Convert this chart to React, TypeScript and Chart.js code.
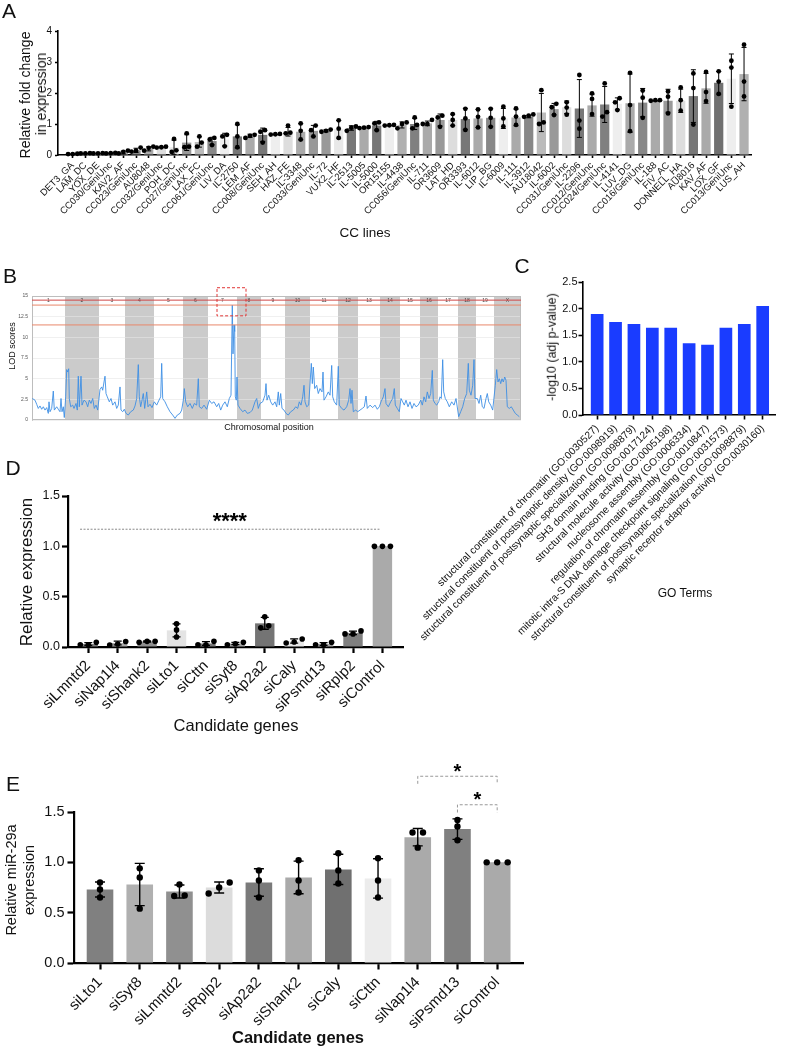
import React, { useEffect, useRef } from 'react';
import { Chart, registerables } from 'chart.js';

Chart.register(...registerables);
const FONT = '"Liberation Sans", Arial, Helvetica, sans-serif';
Chart.defaults.font.family = FONT;
Chart.defaults.color = '#111';

/* ---------------- Panel A data ---------------- */
const ccLines = ['DET3_GA','LAM_DC','YOX_DE','CC030/GeniUnc','KAV2_AF','CC023/GeniUnc','AU8048','CC032/GeniUnc','POH_DC','CC027/GeniUnc','LAX_FC','CC061/GeniUnc','LIV_DA','IL-2750','LEM_AF','CC008/GeniUnc','SEH_AH','HAZ_FE','IL-3348','CC033/GeniUnc','IL-72','VUX2_HF','IL-2513','IL-5005','IL-5000','OR15155','IL-4438','CC056/GeniUnc','IL-711','OR3609','LAT_HD','OR3393','IL-6012','LIP_BG','IL-6009','IL-111','IL-3912','AU18042','IL-6002','CC031/GeniUnc','IL-2296','CC012/GeniUnc','CC024/GeniUnc','IL-4141','LUV_DG','CC016/GeniUnc','IL-188','FIV_AC','DONNELL_HA','AU8016','KAV_AF','LOX_GF','CC013/GeniUnc','LUS_AH'];
const ccMeans = [0.03,0.05,0.05,0.06,0.08,0.15,0.2,0.25,0.25,0.4,0.42,0.45,0.5,0.6,0.62,0.65,0.66,0.75,0.75,0.78,0.78,0.83,0.87,0.88,0.95,0.95,0.97,1.0,1.02,1.13,1.13,1.16,1.18,1.2,1.18,1.21,1.24,1.37,1.48,1.54,1.5,1.6,1.63,1.65,1.67,1.69,1.75,1.75,1.75,1.9,2.15,2.33,2.46,2.61];
const ccReplicates = [[0.03,0.03,0.04],[0.05,0.06,0.05],[0.05,0.06,0.05],[0.05,0.07,0.06],[0.05,0.1,0.14],[0.11,0.14,0.24],[0.14,0.23,0.27],[0.24,0.25,0.27],[0.1,0.15,0.52],[0.25,0.27,0.7],[0.27,0.4,0.6],[0.32,0.5,0.55],[0.28,0.6,0.65],[0.25,0.6,1.0],[0.55,0.62,0.65],[0.4,0.75,0.8],[0.66,0.67,0.68],[0.7,0.72,0.95],[0.5,0.78,1.02],[0.6,0.8,0.95],[0.75,0.78,0.82],[0.55,0.85,1.12],[0.78,0.88,0.92],[0.87,0.88,0.9],[0.8,1.02,1.05],[0.95,0.96,0.97],[0.86,1.0,1.05],[0.86,0.97,1.21],[1.0,1.0,1.13],[0.91,1.21,1.27],[0.95,1.13,1.32],[0.81,1.18,1.49],[0.89,1.23,1.47],[0.91,1.2,1.49],[0.92,1.18,1.56],[0.97,1.24,1.5],[1.23,1.27,1.31],[1.0,1.05,2.09],[1.29,1.54,1.65],[1.3,1.53,1.7],[0.85,1.11,2.58],[1.32,1.81,1.99],[1.24,1.38,2.31],[1.45,1.7,1.83],[0.77,1.61,2.65],[1.2,1.85,2.08],[1.75,1.77,1.77],[1.34,1.88,2.05],[1.43,1.77,2.18],[0.98,2.16,2.63],[1.74,2.03,2.68],[1.97,2.37,2.7],[1.56,2.82,3.04],[1.89,2.37,3.56]];
const ccBarColors = ['#808080','#aaaaaa','#dddddd','#888888','#aaaaaa','#888888','#aaaaaa','#dddddd','#e8e8e8','#999999','#bbbbbb','#888888','#eeeeee','#777777','#aaaaaa','#777777','#eeeeee','#dddddd','#aaaaaa','#999999','#999999','#e8e8e8','#777777','#aaaaaa','#777777','#eeeeee','#b0b0b0','#808080','#aaaaaa','#999999','#dddddd','#777777','#aaaaaa','#888888','#eeeeee','#aaaaaa','#888888','#bbbbbb','#999999','#dddddd','#777777','#aaaaaa','#808080','#eeeeee','#aaaaaa','#888888','#aaaaaa','#999999','#dddddd','#777777','#aaaaaa','#707070','#eeeeee','#b0b0b0'];

/* ---------------- Panel B data ---------------- */
const chromosomes = ['1','2','3','4','5','6','7','8','9','10','11','12','13','14','15','16','17','18','19','X'];
const chromStart = [0,33,67,93,122,151,176,205,229,253,278,306,326,348,368,388,406,426,444,462];
const chromEnd = [33,67,93,122,151,176,205,229,253,278,306,326,348,368,388,406,426,444,462,489];
const lodThresholds = [14.5, 13.9, 11.5];
const lodThresholdColors = ['#d04848', '#e8876a', '#e8876a'];
const peakBox = { from: 185, to: 214, low: 12.6, high: 16 };
const lodTrace = [
  [0.3,2.6],[3,2.4],[4.7,1.9],[6.3,1.4],[8,1.7],[9.7,1.3],[11.3,1.6],[13,1.2],[14.7,1.5],[16.3,0.8],[17,2.2],[18,1.0],[19.7,1.4],[21.3,3.5],[22.3,1.2],[24.7,1.6],[26.3,1.3],[28,1.0],[29,2.6],[30,1.0],[31.3,1.6],[32.3,0.3],
  [33.7,2.8],[34.7,6.1],[35.7,5.8],[36.7,6.2],[37.3,2.6],[38.7,1.6],[40.7,1.8],[42,1.4],[44,2.0],[45.3,1.2],[46.3,5.3],[47.3,1.6],[49,5.3],[50,1.8],[52,2.4],[54,2.2],[55.7,1.6],[57.3,2.4],[59,2.0],[60.7,2.6],[62.3,1.4],[64,1.8],[65.7,1.2],
  [68,3.7],[69.7,4.0],[70.7,3.6],[72,4.6],[73,5.3],[74,3.2],[75.3,2.8],[77.3,2.2],[79,2.6],[80.7,1.8],[83,2.2],[84.7,1.4],[86.3,1.8],[88,4.0],[89,1.2],[90.7,1.0],[92.3,1.3],
  [94,0.8],[96.3,0.6],[98.7,1.0],[101.3,1.2],[103,1.7],[104.7,2.6],[106.3,6.7],[107.3,2.8],[108.7,1.6],[109.7,2.2],[111.3,3.2],[112.7,1.4],[114.7,3.4],[116,1.6],[118,1.9],[120,1.5],
  [122.3,2.2],[124.7,1.8],[127,2.4],[128.7,2.8],[129.7,6.85],[130.7,2.6],[133,2.2],[135.3,1.6],[138,1.0],[140.7,0.6],[143,0.2],[145.3,0.6],[148,0.8],[149.7,1.2],
  [151.3,2.4],[152.3,3.8],[153.7,2.2],[155.7,1.6],[158,2.0],[160.3,1.4],[162.3,2.0],[164.7,1.8],[166.3,5.0],[167.3,1.6],[169.7,1.4],[172,1.8],[174.7,1.3],
  [177.3,2.4],[179.7,2.0],[182,2.2],[184.7,1.6],[186.7,2.0],[188.7,1.2],[190.7,1.8],[193,2.2],[195.3,1.6],[197.3,2.6],[199,3.0],[200.3,13.9],[201,8.0],[202,11.5],[202.7,10.7],[203.3,2.8],[204.3,2.4],
  [205,5.2],[206,1.8],[208,1.4],[210.7,1.0],[213,1.2],[215.3,0.8],[218,0.9],[220.3,1.2],[223,2.2],[224.7,2.6],[226.3,1.4],[228,2.0],
  [230.7,2.2],[233,3.0],[234,4.4],[235,2.4],[236.7,3.0],[238.7,2.2],[240.7,1.8],[243,2.2],[244.7,1.6],[246.3,3.4],[247.3,1.8],[248.7,3.2],[250,1.4],[252,1.2],
  [254,0.8],[256.3,0.6],[258.7,1.0],[261.3,1.2],[263.7,1.6],[265.7,1.4],[267.3,2.2],[269,1.8],[270.7,2.8],[272,4.2],[273,2.2],[274.7,1.6],[276.7,1.8],
  [279.3,6.85],[280.3,4.4],[281.3,6.4],[282.7,3.8],[284.7,4.2],[286.3,3.2],[288,3.8],[290,3.4],[291,5.8],[292,2.4],[294,2.8],[296.3,3.4],[298,3.0],[299.7,6.6],[300.7,2.8],[302.3,2.2],[304.7,1.8],
  [306.3,6.5],[307.3,1.8],[309.7,1.4],[312,1.2],[314.7,1.6],[316.7,2.4],[318,3.8],[319,2.0],[320,3.6],[321.3,1.0],[323.7,1.2],[325.7,1.0],
  [328,1.2],[330.3,1.4],[332.3,1.6],[334,2.9],[335.3,1.4],[338,1.8],[340.7,1.5],[343,1.8],[345.3,1.3],[347.3,1.6],
  [349,2.2],[351.3,2.8],[353,3.8],[354,2.0],[356.3,1.6],[358.7,2.2],[360.7,2.6],[362.3,3.8],[363.3,1.8],[365.3,1.4],[367.3,1.0],
  [369,2.6],[370.7,2.2],[372.3,1.8],[374,2.4],[376,1.6],[378,2.2],[380,1.4],[382,2.0],[384,1.6],[386.3,1.8],
  [388.7,2.4],[390.3,1.8],[392,2.8],[393.7,2.2],[395.3,3.4],[397,2.6],[398.7,3.2],[400.3,6.0],[401.3,2.4],[403,2.0],[404.7,1.8],
  [406.7,2.2],[408,2.8],[409.3,2.6],[410.7,7.3],[411.7,3.4],[413.3,2.6],[415.3,2.2],[417.3,1.6],[419.7,2.2],[422,1.8],[424,2.6],
  [426.7,0.4],[428.7,1.0],[430.7,1.6],[432.7,2.6],[434.7,3.2],[436.3,6.85],[437.3,3.6],[439,3.0],[440.7,4.2],[442,7.3],[443,2.6],
  [445.3,2.6],[447,2.0],[448.7,3.0],[450.3,1.6],[452,1.4],[454,2.6],[455.3,3.2],[456.7,2.2],[458.7,1.8],[460.7,1.2],
  [463.3,4.2],[464.7,6.1],[466,4.6],[467.3,5.0],[468.7,4.4],[470,5.0],[471.3,4.6],[472.7,5.2],[474,4.8],[475.3,1.6],[477.3,1.4],[479.3,1.6],[481.3,1.2],[483.3,0.8],[485.3,0.6],[487.3,0.4]
];

/* ---------------- Panel C data ---------------- */
const goTerms = [
  'structural constituent of chromatin (GO:0030527)',
  'structural constituent of postsynaptic density (GO:0098919)',
  'structural constituent of postsynaptic specialization (GO:0098879)',
  'SH3 domain binding (GO:0017124)',
  'structural molecule activity (GO:0005198)',
  'nucleosome assembly (GO:0006334)',
  'regulation of chromatin assembly (GO:0010847)',
  'mitotic intra-S DNA damage checkpoint signaling (GO:0031573)',
  'structural constituent of postsynaptic specialization (GO:0098879)',
  'synaptic receptor adaptor activity (GO:0030160)'
];
const goScores = [1.9, 1.75, 1.71, 1.64, 1.64, 1.35, 1.32, 1.64, 1.71, 2.05];
const goColors = goTerms.map(() => '#1a3cff');

/* ---------------- Panel D data ---------------- */
const dGenes = ['siLmntd2','siNap1l4','siShank2','siLto1','siCttn','siSyt8','siAp2a2','siCaly','siPsmd13','siRplp2','siControl'];
const dMeans = [0.03, 0.04, 0.055, 0.165, 0.035, 0.035, 0.235, 0.06, 0.03, 0.14, 1.0];
const dReplicates = [[0.023,0.046,0.023],[0.02,0.055,0.03],[0.056,0.056,0.046],[0.23,0.17,0.1],[0.023,0.056,0.023],[0.023,0.046,0.033],[0.3,0.19,0.21],[0.08,0.05,0.04],[0.023,0.046,0.023],[0.16,0.13,0.13],[1,1,1]];
const dColors = ['#808080','#aaaaaa','#909090','#e4e4e4','#7a7a7a','#aaaaaa','#747474','#e8e8e8','#aaaaaa','#808080','#aaaaaa'];
const dSig = [{ from: -0.28, to: 9.9, y: 1.17, label: '****', labelY: 1.18 }];

/* ---------------- Panel E data ---------------- */
const eGenes = ['siLto1','siSyt8','siLmntd2','siRplp2','siAp2a2','siShank2','siCaly','siCttn','siNap1l4','siPsmd13','siControl'];
const eMeans = [0.73, 0.78, 0.71, 0.75, 0.80, 0.85, 0.93, 0.84, 1.25, 1.33, 1.0];
const eReplicates = [[0.80,0.73,0.65],[0.94,0.85,0.54],[0.78,0.665,0.67],[0.80,0.75,0.69],[0.92,0.82,0.65],[1.02,0.82,0.70],[1.09,0.92,0.79],[1.04,0.82,0.65],[1.296,1.296,1.146],[1.42,1.356,1.22],[1,1,1]];
const eColors = ['#808080','#b0b0b0','#909090','#dcdcdc','#7a7a7a','#aaaaaa','#707070','#ececec','#aaaaaa','#808080','#aaaaaa'];
const eSig = [
  { from: 8, to: 10, y: 1.855, drop: 1.78, label: '*', labelY: 1.834 },
  { from: 9, to: 10, y: 1.572, drop: 1.495, label: '*', labelY: 1.556 }
];

/* ---------------- helpers ---------------- */
function sd(v: number[]) {
  const m = v.reduce((a, b) => a + b, 0) / v.length;
  return Math.sqrt(v.reduce((a, b) => a + (b - m) * (b - m), 0) / (v.length - 1));
}

// horizontal spread for overlapping replicate dots (layout only)
function swarm(vals: number[], pxY: number, d: number, gapUnits: number) {
  const idx = vals.map((_, i) => i).sort((a, b) => vals[a] - vals[b]);
  const out = vals.map(() => 0);
  let cl: number[] = [];
  const flush = () => {
    const n = cl.length;
    cl.forEach((ii, k) => { out[ii] = (k - (n - 1) / 2) * gapUnits; });
    cl = [];
  };
  idx.forEach((ii) => {
    if (cl.length && (vals[ii] - vals[cl[cl.length - 1]]) * pxY > d) flush();
    cl.push(ii);
  });
  flush();
  return out;
}

function base(padding: any) {
  return {
    responsive: false,
    animation: false,
    events: [],
    layout: { padding },
    plugins: { legend: { display: false }, tooltip: { enabled: false } },
  };
}

function barPanel(c: any) {
  const { W, H, a } = c;
  const pxX = (a.r - a.l) / (c.xMax - c.xMin);
  const pxY = (a.b - a.t) / c.yMax;
  const dots: any[] = [];
  c.reps.forEach((r: number[], i: number) => {
    const offs = swarm(r, pxY, c.dotD, c.dotGap / pxX);
    r.forEach((v, k) => dots.push({ x: i + offs[k], y: v }));
  });
  const datasets: any[] = [
    { type: 'bar', data: c.means.map((m: number, i: number) => ({ x: i, y: m })), backgroundColor: c.colors, borderWidth: 0, barPercentage: c.barPct, categoryPercentage: 1, order: 2 },
  ];
  if (dots.length) {
    datasets.push({ type: 'scatter', data: dots, pointRadius: c.dotR, pointBackgroundColor: '#000', backgroundColor: '#000', pointBorderWidth: 0, borderWidth: 0, order: 1, clip: false });
  }
  const errPlugin = {
    id: 'errbars',
    afterDatasetDraw(chart: any, args: any) {
      if (args.index !== 0) return;
      const { ctx } = chart; const xs = chart.scales.x, ys = chart.scales.y;
      ctx.save();
      ctx.strokeStyle = '#000'; ctx.lineWidth = c.errW;
      c.reps.forEach((r: number[], i: number) => {
        if (r.length < 2) return;
        const s = sd(r); if (s < 1e-6) return;
        const m = c.means[i];
        const px = xs.getPixelForValue(i);
        const yT = ys.getPixelForValue(m + s);
        const yB = ys.getPixelForValue(Math.max(0, m - s));
        ctx.beginPath();
        ctx.moveTo(px, yT); ctx.lineTo(px, yB);
        ctx.moveTo(px - c.capHalf, yT); ctx.lineTo(px + c.capHalf, yT);
        ctx.moveTo(px - c.capHalf, yB); ctx.lineTo(px + c.capHalf, yB);
        ctx.stroke();
      });
      ctx.restore();
    },
  };
  const sigPlugin = {
    id: 'sig',
    afterDatasetsDraw(chart: any) {
      if (!c.sig) return;
      const { ctx } = chart; const xs = chart.scales.x, ys = chart.scales.y;
      ctx.save();
      c.sig.forEach((s: any) => {
        const x0 = xs.getPixelForValue(s.from), x1 = xs.getPixelForValue(s.to), y = ys.getPixelForValue(s.y);
        ctx.strokeStyle = c.sigColor; ctx.lineWidth = 1; ctx.setLineDash(c.sigDash);
        ctx.beginPath();
        if (s.drop != null) {
          const yd = ys.getPixelForValue(s.drop);
          ctx.moveTo(x0, yd); ctx.lineTo(x0, y); ctx.lineTo(x1, y); ctx.lineTo(x1, yd);
        } else { ctx.moveTo(x0, y); ctx.lineTo(x1, y); }
        ctx.stroke();
        ctx.setLineDash([]);
        ctx.fillStyle = '#000'; ctx.font = c.sigFont; ctx.textAlign = 'center'; ctx.textBaseline = 'alphabetic';
        ctx.fillText(s.label, (x0 + x1) / 2, ys.getPixelForValue(s.labelY));
      });
      ctx.restore();
    },
  };
  const n = c.names.length;
  return {
    type: 'bar',
    data: { datasets },
    options: {
      ...base({ left: 0, top: a.t, right: W - a.r, bottom: 0 }),
      scales: {
        x: {
          type: 'linear', min: c.xMin, max: c.xMax, offset: false,
          afterBuildTicks: (s: any) => { s.ticks = c.names.map((_: any, i: number) => ({ value: i })); },
          afterFit: (s: any) => { s.height = H - a.b; s.paddingLeft = 0; s.paddingRight = 0; },
          ticks: { stepSize: 1, autoSkip: false, minRotation: 45, maxRotation: 45, padding: c.xPad, color: '#111', font: { size: c.xFont, family: FONT }, callback: (v: any) => { const k = Math.round(v); return k >= 0 && k < n ? c.names[k] : ''; } },
          grid: { display: true, drawOnChartArea: false, drawTicks: true, tickLength: c.tickLen, tickWidth: c.axisW, tickColor: '#000', offset: false },
          border: { display: true, color: '#000', width: c.axisW },
        },
        y: {
          type: 'linear', min: 0, max: c.yMax,
          afterFit: (s: any) => { s.width = a.l; s.paddingTop = 0; s.paddingBottom = 0; },
          ticks: { stepSize: c.yStep, padding: c.yPad, color: '#111', font: { size: c.yFont, family: FONT }, callback: (v: any) => Number(v).toFixed(c.yDec) },
          grid: { display: true, drawOnChartArea: false, drawTicks: true, tickLength: c.tickLen, tickWidth: c.axisW, tickColor: '#000' },
          border: { display: true, color: '#000', width: c.axisW },
        },
      },
    },
    plugins: [errPlugin, sigPlugin],
  };
}

function makeA() {
  return barPanel({
    W: 787, H: 200, a: { l: 58, t: 11, r: 751, b: 135 },
    names: ccLines, means: ccMeans, reps: ccReplicates, colors: ccBarColors,
    xMin: -1.16, xMax: 53.55, yMax: 4, yStep: 1, yDec: 0, barPct: 0.73,
    yFont: 10, xFont: 9.5, xPad: 2, yPad: 3, tickLen: 3, axisW: 1.6,
    dotR: 2.4, dotD: 4.8, dotGap: 4.6, capHalf: 2.5, errW: 1,
  });
}

function makeC() {
  return barPanel({
    W: 407, H: 400, a: { l: 203, t: 32, r: 395, b: 165 },
    names: goTerms, means: goScores, reps: [], colors: goColors,
    xMin: -0.77, xMax: 9.67, yMax: 2.5, yStep: 0.5, yDec: 1, barPct: 0.69,
    yFont: 11, xFont: 10.3, xPad: 3, yPad: 1, tickLen: 4.5, axisW: 1.6,
    dotR: 0, dotD: 1, dotGap: 1, capHalf: 0, errW: 1,
  });
}

function makeD() {
  return barPanel({
    W: 420, H: 235, a: { l: 68, t: 16, r: 403, b: 167 },
    names: dGenes, means: dMeans, reps: dReplicates, colors: dColors,
    xMin: -0.69, xMax: 10.7, yMax: 1.5, yStep: 0.5, yDec: 1, barPct: 0.66,
    yFont: 12.5, xFont: 15, xPad: 4, yPad: 2, tickLen: 6, axisW: 2.2,
    dotR: 2.8, dotD: 5.6, dotGap: 8, capHalf: 4, errW: 1.3,
    sig: dSig, sigColor: '#888', sigDash: [2, 1.5], sigFont: `bold 22px ${FONT}`,
  });
}

function makeE() {
  return barPanel({
    W: 540, H: 290, a: { l: 74, t: 57, r: 523, b: 208 },
    names: eGenes, means: eMeans, reps: eReplicates, colors: eColors,
    xMin: -0.655, xMax: 10.65, yMax: 1.5, yStep: 0.5, yDec: 1, barPct: 0.67,
    yFont: 14.5, xFont: 15, xPad: 4, yPad: 3, tickLen: 6.5, axisW: 2.2,
    dotR: 3.2, dotD: 6.4, dotGap: 10.5, capHalf: 5, errW: 1.4,
    sig: eSig, sigColor: '#999', sigDash: [3, 2], sigFont: `bold 20px ${FONT}`,
  });
}

function makeB() {
  const W = 530, H = 140;
  const a = { l: 32, t: 11, r: 521, b: 135 };
  const xMax = chromEnd[chromEnd.length - 1];
  const bands = {
    id: 'bands',
    beforeDraw(chart: any) {
      const { ctx, chartArea: ca } = chart; const xs = chart.scales.x;
      ctx.save();
      ctx.fillStyle = '#fff';
      ctx.fillRect(ca.left, ca.top, ca.right - ca.left, ca.bottom - ca.top);
      chromosomes.forEach((_, i) => {
        if (i % 2 === 1) {
          const x0 = xs.getPixelForValue(chromStart[i]);
          const x1 = xs.getPixelForValue(chromEnd[i]);
          ctx.fillStyle = '#cbcbcb';
          ctx.fillRect(x0, ca.top, x1 - x0, ca.bottom - ca.top);
        }
      });
      ctx.restore();
    },
    beforeDatasetsDraw(chart: any) {
      const { ctx, chartArea: ca } = chart; const xs = chart.scales.x;
      ctx.save();
      ctx.strokeStyle = '#bdbdbd'; ctx.lineWidth = 1;
      ctx.strokeRect(ca.left + 0.5, ca.top + 0.5, ca.right - ca.left - 1, ca.bottom - ca.top - 1);
      ctx.fillStyle = '#444'; ctx.font = `5px ${FONT}`; ctx.textAlign = 'center'; ctx.textBaseline = 'middle';
      chromosomes.forEach((c, i) => {
        const xc = (xs.getPixelForValue(chromStart[i]) + xs.getPixelForValue(chromEnd[i])) / 2;
        ctx.fillText(c, xc, ca.top + 4.5);
      });
      ctx.restore();
    },
    afterDatasetsDraw(chart: any) {
      const { ctx } = chart; const xs = chart.scales.x, ys = chart.scales.y;
      const x0 = xs.getPixelForValue(peakBox.from), x1 = xs.getPixelForValue(peakBox.to);
      const y0 = ys.getPixelForValue(peakBox.high), y1 = ys.getPixelForValue(peakBox.low);
      ctx.save();
      ctx.strokeStyle = '#e03535'; ctx.lineWidth = 1; ctx.setLineDash([3, 2]);
      ctx.strokeRect(x0, y0, x1 - x0, y1 - y0);
      ctx.restore();
    },
  };
  return {
    type: 'scatter',
    data: {
      datasets: [
        ...lodThresholds.map((t, i) => ({ data: [{ x: 0, y: t }, { x: xMax, y: t }], showLine: true, borderColor: lodThresholdColors[i], borderWidth: 1, pointRadius: 0 })),
        { data: lodTrace.map((p) => ({ x: p[0], y: p[1] })), showLine: true, borderColor: '#3d8fe4', borderWidth: 0.9, pointRadius: 0, tension: 0 },
      ],
    },
    options: {
      ...base({ left: 0, top: a.t, right: W - a.r, bottom: H - a.b }),
      scales: {
        x: { type: 'linear', min: 0, max: xMax, display: false },
        y: {
          type: 'linear', min: 0, max: 15,
          afterFit: (s: any) => { s.width = a.l; s.paddingTop = 0; s.paddingBottom = 0; },
          ticks: { stepSize: 2.5, padding: 4, color: '#555', font: { size: 5, family: FONT } },
          grid: { color: '#e6e6e6', lineWidth: 0.6, drawTicks: false },
          border: { display: true, color: '#bdbdbd', width: 1 },
        },
      },
    },
    plugins: [bands],
  };
}

function ChartBox(props: { left: number; top: number; width: number; height: number; make: () => any }) {
  const ref = useRef<HTMLCanvasElement | null>(null);
  useEffect(() => {
    if (!ref.current) return;
    const chart = new Chart(ref.current, props.make());
    return () => chart.destroy();
  }, []);
  return (
    <canvas
      ref={ref}
      width={props.width}
      height={props.height}
      style={{ position: 'absolute', left: props.left, top: props.top, width: props.width, height: props.height }}
    />
  );
}

function Txt(p: { x: number; y: number; size: number; text: string; rot?: number; bold?: boolean }) {
  return (
    <div
      style={{
        position: 'absolute', left: p.x, top: p.y,
        transform: `translate(-50%, -50%) rotate(${p.rot || 0}deg)`,
        fontSize: p.size, fontWeight: p.bold ? 700 : 400, whiteSpace: 'nowrap', lineHeight: 1,
        fontFamily: FONT, color: '#111',
      }}
    >
      {p.text}
    </div>
  );
}

export default function App() {
  return (
    <div style={{ position: 'absolute', left: 0, top: 0, width: 787, height: 1051, background: '#fff', overflow: 'hidden', fontFamily: FONT }}>
      <ChartBox left={0} top={20} width={787} height={200} make={makeA} />
      <ChartBox left={0} top={285} width={530} height={140} make={makeB} />
      <ChartBox left={380} top={250} width={407} height={400} make={makeC} />
      <ChartBox left={0} top={480} width={420} height={235} make={makeD} />
      <ChartBox left={0} top={755} width={540} height={290} make={makeE} />

      {/* panel letters */}
      <Txt x={9} y={10} size={21} text="A" />
      <Txt x={10} y={275} size={21} text="B" />
      <Txt x={522} y={265} size={21} text="C" />
      <Txt x={13} y={467} size={21} text="D" />
      <Txt x={13} y={783} size={21} text="E" />

      {/* A titles */}
      <Txt x={25} y={95} size={14} text="Relative fold change" rot={-90} />
      <Txt x={41} y={94} size={14} text="in expression" rot={-90} />
      <Txt x={365} y={233} size={13.5} text="CC lines" />

      {/* B titles */}
      <Txt x={12} y={346} size={9} text="LOD scores" rot={-90} />
      <Txt x={269} y={427} size={9} text="Chromosomal position" />

      {/* C titles */}
      <Txt x={552} y={347} size={12.5} text="-log10 (adj p-value)" rot={-90} />
      <Txt x={685} y={593} size={12} text="GO Terms" />

      {/* D titles */}
      <Txt x={26} y={572} size={17} text="Relative expression" rot={-90} />
      <Txt x={236} y={725} size={16.5} text="Candidate genes" />

      {/* E titles */}
      <Txt x={11} y={880} size={14.5} text="Relative miR-29a" rot={-90} />
      <Txt x={29} y={880} size={14.5} text="expression" rot={-90} />
      <Txt x={298} y={1037} size={16.5} text="Candidate genes" bold />
    </div>
  );
}
